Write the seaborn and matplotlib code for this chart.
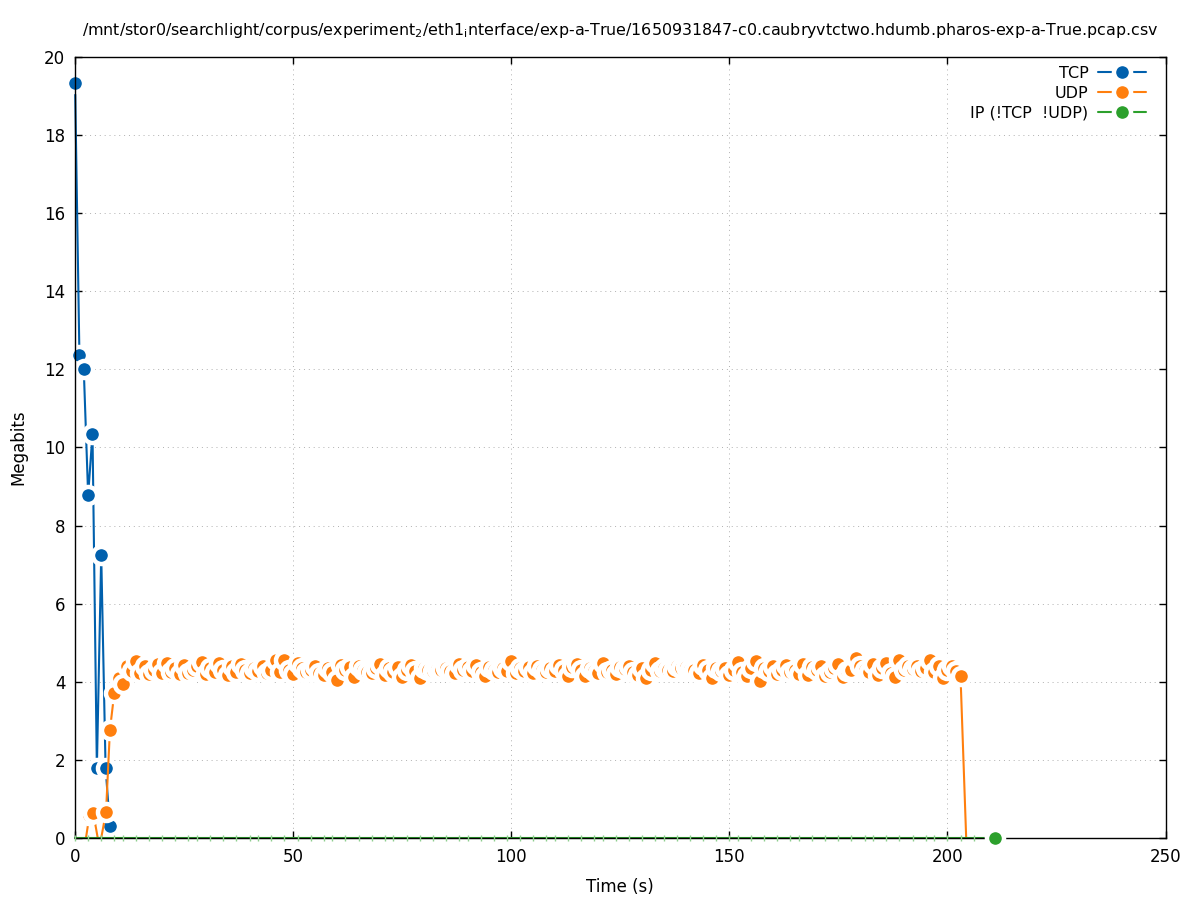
import seaborn as sns
import pandas as pd
import matplotlib.pyplot as plt

# TCP throughput per second
tcp_t = [0, 1, 2, 3, 4, 5, 6, 7, 8]
tcp_v = [19.33, 12.37, 12.0, 8.78, 10.35, 1.79, 7.25, 1.79, 0.31]

# UDP throughput, one sample a second after the ramp-up (zero samples are not marked)
udp_t = [2.5, 3.3, 4.2, 5.2, 6.0, 7.1, 8, 9, 10, 11] + list(range(12, 204)) + [204.3]
udp_v = [0.0, 0.58, 0.63, 0.0, 0.0, 0.67, 2.77, 3.72, 4.10, 3.94,
         4.40, 4.28, 4.53, 4.22, 4.40, 4.20, 4.30, 4.45, 4.22, 4.48,   # 12-21
         4.25, 4.35, 4.20, 4.42, 4.22, 4.30, 4.40, 4.50, 4.20, 4.35,   # 22-31
         4.25, 4.48, 4.30, 4.17, 4.40, 4.25, 4.45, 4.30, 4.22, 4.35,   # 32-41
         4.28, 4.40, 4.22, 4.30, 4.56, 4.25, 4.56, 4.30, 4.20, 4.48,   # 42-51
         4.35, 4.25, 4.30, 4.40, 4.22, 4.17, 4.35, 4.25, 4.05, 4.42,   # 52-61
         4.30, 4.38, 4.12, 4.40, 4.30, 4.25, 4.22, 4.35, 4.45, 4.18,   # 62-71
         4.35, 4.25, 4.38, 4.12, 4.30, 4.42, 4.28, 4.10, 4.35, 4.30,   # 72-81
         4.28, 4.32, 4.30, 4.35, 4.28, 4.22, 4.45, 4.30, 4.38, 4.28,   # 82-91
         4.42, 4.25, 4.15, 4.38, 4.30, 4.25, 4.35, 4.28, 4.53, 4.22,   # 92-101
         4.35, 4.28, 4.38, 4.22, 4.40, 4.30, 4.25, 4.35, 4.28, 4.42,   # 102-111
         4.30, 4.15, 4.38, 4.45, 4.30, 4.15, 4.35, 4.28, 4.22, 4.48,   # 112-121
         4.25, 4.30, 4.20, 4.38, 4.32, 4.40, 4.25, 4.18, 4.35, 4.10,   # 122-131
         4.30, 4.48, 4.28, 4.35, 4.30, 4.28, 4.40, 4.35, 4.38, 4.32,   # 132-141
         4.30, 4.22, 4.42, 4.30, 4.10, 4.35, 4.28, 4.35, 4.18, 4.30,   # 142-151
         4.50, 4.25, 4.15, 4.35, 4.53, 4.02, 4.35, 4.28, 4.40, 4.20,   # 152-161
         4.30, 4.42, 4.25, 4.30, 4.20, 4.45, 4.18, 4.38, 4.30, 4.40,   # 162-171
         4.15, 4.25, 4.35, 4.45, 4.12, 4.28, 4.30, 4.60, 4.40, 4.30,   # 172-181
         4.25, 4.45, 4.18, 4.35, 4.48, 4.22, 4.12, 4.56, 4.30, 4.40,   # 182-191
         4.32, 4.40, 4.28, 4.35, 4.56, 4.25, 4.40, 4.10, 4.30, 4.40,   # 192-201
         4.28, 4.15,                                                   # 202-203
         0.0]

# IP traffic that is neither TCP nor UDP
ip_t = [0, 3, 6, 9, 11, 14, 17, 20, 23, 26, 28, 31, 34, 37, 40, 42, 45, 48,
        51, 54, 57, 59, 62, 65, 68, 71, 73, 76, 79, 82, 85, 88, 90, 93, 96,
        99, 102, 105, 108, 110, 113, 116, 119, 121, 124, 127, 130, 133, 135,
        138, 141, 144, 147, 150, 152, 155, 158, 161, 164, 166, 169, 172, 175,
        178, 181, 183, 186, 189, 192, 195, 197, 200, 203, 206, 210.8]
ip_v = [0.0] * len(ip_t)

title = ('/mnt/stor0/searchlight/corpus/experiment$_{\\mathregular{2}}$'
         '/eth1$_{\\mathregular{i}}$nterface/exp-a-True/'
         '1650931847-c0.caubryvtctwo.hdumb.pharos-exp-a-True.pcap.csv')

sns.set_style('ticks')
plt.rcParams['font.family'] = ['DejaVu Sans']
plt.rcParams['mathtext.default'] = 'regular'
plt.rcParams['text.color'] = 'black'
plt.rcParams['axes.labelcolor'] = 'black'

fig = plt.figure(figsize=(11.97, 9), dpi=100)
ax = fig.add_axes([0.0627, 0.0689, 0.9110, 0.8678])

ms, mew = 12.3, 3.2
mk = dict(marker='o', markersize=ms, markeredgecolor='white', markeredgewidth=mew,
          linewidth=1.5, clip_on=False, estimator=None)

tcp = pd.DataFrame({'t': tcp_t, 'v': tcp_v})
udp = pd.DataFrame({'t': udp_t, 'v': udp_v})
ip = pd.DataFrame({'t': ip_t, 'v': ip_v})

sns.lineplot(data=tcp, x='t', y='v', color='#0060ad', label='TCP', ax=ax, **mk)
udp_marks = [i for i, v in enumerate(udp_v) if v > 0]
sns.lineplot(data=udp, x='t', y='v', color='#ff7f0e', label='UDP', ax=ax,
             markevery=udp_marks, **mk)
# green line sits under the x axis; only its last point is marked
sns.lineplot(data=ip, x='t', y='v', color='#2ca02c', label='IP (!TCP  !UDP)', ax=ax,
             markevery=[len(ip_v) - 1], zorder=2, **mk)
ax.plot(ip_t[-1:], ip_v[-1:], linestyle='none', marker='o', markersize=ms,
        color='#2ca02c', markeredgecolor='white', markeredgewidth=mew,
        clip_on=False, zorder=6)
ax.plot(ip_t[:-1], ip_v[:-1], linestyle='none', marker='|', markersize=4,
        color='#8fcf8f', markeredgewidth=1, clip_on=False, zorder=3)

ax.set_xlim(0, 250)
ax.set_ylim(0, 20)
ax.set_xticks(range(0, 251, 50))
ax.set_yticks(range(0, 21, 2))
ax.tick_params(direction='in', length=5, width=1, top=True, right=True,
               labelsize=12, colors='black', labelcolor='black', pad=7)
for s in ax.spines.values():
    s.set_visible(True)
    s.set_linewidth(1)
    s.set_color('black')
    s.set_zorder(2.5)
ax.grid(True, linestyle=(0, (1, 4)), color='#b0b0b0', linewidth=0.7)
ax.set_axisbelow(True)

ax.set_xlabel('Time (s)', fontsize=12, labelpad=9, color='black')
ax.set_ylabel('Megabits', fontsize=12, labelpad=12, color='black')
ax.set_title(title, fontsize=11.4, pad=16, color='black')

leg = ax.legend(loc='upper right', bbox_to_anchor=(0.99, 1.0), frameon=False,
                markerfirst=False, fontsize=11.5, handlelength=3.0,
                labelspacing=0.32, handletextpad=0.6, borderaxespad=0.15)
for t in leg.get_texts():
    t.set_ha('right')
    t.set_color('black')

plt.savefig('out.png', dpi=100)
